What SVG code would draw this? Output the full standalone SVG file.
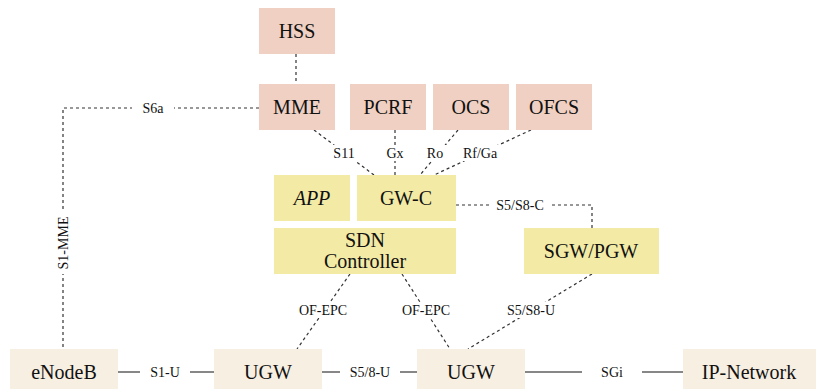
<svg xmlns="http://www.w3.org/2000/svg" width="816" height="389" viewBox="0 0 816 389" font-family="Liberation Serif, Times New Roman, Times, Noto Serif, DejaVu Serif, serif">
<style>
.pink{fill:#efd0c2}
.yel{fill:#f3eba5}
.bei{fill:#f7efe1}
text{fill:#111;text-anchor:middle;dominant-baseline:central}
.nt{font-size:20px}
.lb{font-size:14px}
.d{stroke:#333;stroke-width:1.2;stroke-dasharray:3,3;fill:none}
.s{stroke:#111;stroke-width:1.2;fill:none}
.bg{fill:#fff}
</style>
<rect width="816" height="389" fill="#fff"/>
<g id="connectors">
<line class="d" x1="296" y1="54" x2="296" y2="84"/>
<polyline class="d" points="259,108 63,108 63,349"/>
<line class="d" x1="314" y1="130" x2="374" y2="175"/>
<line class="d" x1="395" y1="130" x2="395" y2="175"/>
<line class="d" x1="458" y1="130" x2="420" y2="175"/>
<line class="d" x1="531" y1="130" x2="434" y2="175"/>
<polyline class="d" points="456,205 592,205 592,228"/>
<line class="d" x1="350" y1="274" x2="297" y2="349"/>
<line class="d" x1="402" y1="274" x2="450" y2="349"/>
<line class="d" x1="592" y1="274" x2="468" y2="349"/>
<line class="s" x1="118" y1="372" x2="214" y2="372"/>
<line class="s" x1="322" y1="372" x2="417" y2="372"/>
<line class="s" x1="525" y1="372" x2="683" y2="372"/>
<rect class="bg" x="132" y="99" width="42" height="18"/>
<text class="lb" x="153" y="108">S6a</text>
<rect class="bg" x="54" y="212" width="18" height="62"/>
<text class="lb" transform="translate(63,243) rotate(-90)" x="0" y="0">S1-MME</text>
<rect class="bg" x="330" y="145" width="28" height="16"/>
<text class="lb" x="344" y="153">S11</text>
<rect class="bg" x="384" y="145" width="22" height="16"/>
<text class="lb" x="395" y="153">Gx</text>
<rect class="bg" x="424" y="145" width="22" height="16"/>
<text class="lb" x="435" y="153">Ro</text>
<rect class="bg" x="460" y="145" width="42" height="16"/>
<text class="lb" x="480" y="153">Rf/Ga</text>
<rect class="bg" x="490" y="197" width="62" height="16"/>
<text class="lb" x="520" y="205">S5/S8-C</text>
<rect class="bg" x="294" y="302" width="60" height="16"/>
<text class="lb" x="323" y="310">OF-EPC</text>
<rect class="bg" x="396" y="302" width="60" height="16"/>
<text class="lb" x="426" y="310">OF-EPC</text>
<rect class="bg" x="500" y="302" width="62" height="16"/>
<text class="lb" x="531" y="310">S5/S8-U</text>
<rect class="bg" x="140" y="364" width="50" height="16"/>
<text class="lb" x="165" y="372">S1-U</text>
<rect class="bg" x="340" y="364" width="60" height="16"/>
<text class="lb" x="370" y="372">S5/8-U</text>
<rect class="bg" x="582" y="364" width="60" height="16"/>
<text class="lb" x="612" y="372">SGi</text>
</g>
<g id="hss"><rect class="pink" x="259" y="8" width="76" height="46"/><text class="nt" x="297" y="31">HSS</text></g>
<g id="mme"><rect class="pink" x="259" y="84" width="76" height="46"/><text class="nt" x="297" y="107">MME</text></g>
<g id="pcrf"><rect class="pink" x="350" y="84" width="76" height="46"/><text class="nt" x="388" y="107">PCRF</text></g>
<g id="ocs"><rect class="pink" x="433" y="84" width="76" height="46"/><text class="nt" x="471" y="107">OCS</text></g>
<g id="ofcs"><rect class="pink" x="516" y="84" width="76" height="46"/><text class="nt" x="554" y="107">OFCS</text></g>
<g id="app"><rect class="yel" x="274" y="175" width="76" height="46"/><text class="nt" x="312" y="198" font-style="italic">APP</text></g>
<g id="gwc"><rect class="yel" x="357" y="175" width="99" height="46"/><text class="nt" x="406" y="198">GW-C</text></g>
<g id="sdn"><rect class="yel" x="274" y="228" width="182" height="46"/><text class="nt" x="365" y="240">SDN</text><text class="nt" x="365" y="261">Controller</text></g>
<g id="sgwpgw"><rect class="yel" x="524" y="228" width="135" height="46"/><text class="nt" x="591" y="251">SGW/PGW</text></g>
<g id="enodeb"><rect class="bei" x="10" y="349" width="108" height="40"/><text class="nt" x="64" y="372">eNodeB</text></g>
<g id="ugw1"><rect class="bei" x="214" y="349" width="108" height="40"/><text class="nt" x="268" y="372">UGW</text></g>
<g id="ugw2"><rect class="bei" x="417" y="349" width="108" height="40"/><text class="nt" x="471" y="372">UGW</text></g>
<g id="ipnet"><rect class="bei" x="683" y="349" width="133" height="40"/><text class="nt" x="749" y="372">IP-Network</text></g>
</svg>
